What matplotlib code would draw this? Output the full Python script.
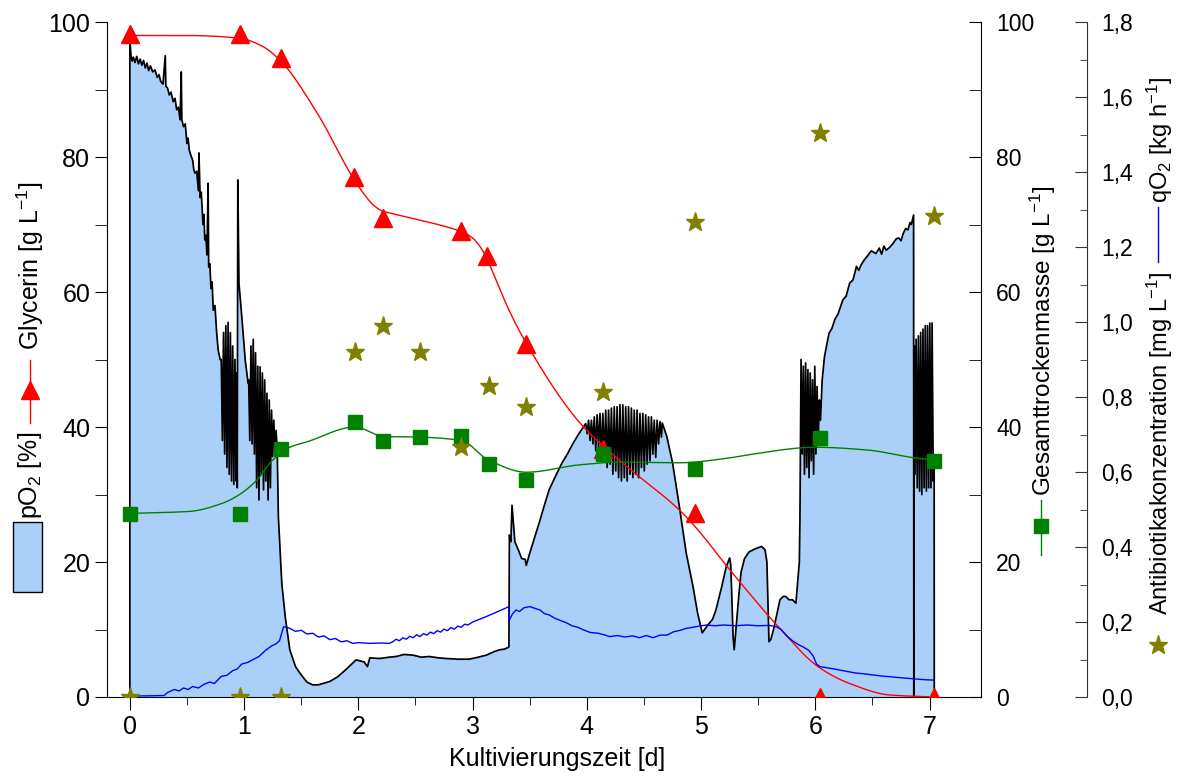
import numpy as np
import matplotlib
matplotlib.use("Agg")
import matplotlib.pyplot as plt
from matplotlib.lines import Line2D
from matplotlib.patches import Rectangle
from matplotlib.ticker import MultipleLocator, FuncFormatter

plt.rcParams['font.family'] = ['Liberation Sans', 'DejaVu Sans']
plt.rcParams['mathtext.fontset'] = 'custom'
plt.rcParams['mathtext.rm'] = 'Liberation Sans'
plt.rcParams['mathtext.it'] = 'Liberation Sans:italic'

# --- sample points (d) ---
glyc_t = [0, 0.96, 1.32, 1.96, 2.22, 2.90, 3.13, 3.47, 4.14, 4.95, 6.04, 7.04]
glyc_v = [98.2, 98.2, 94.7, 77.0, 71.0, 69.0, 65.3, 52.3, 36.8, 27.3, 0, 0]
# fitted glycerin curve
glyc_fit_t = [0, 0.5, 0.96, 1.15, 1.31, 1.64, 1.95, 2.05, 2.13, 2.21, 2.3, 2.45, 2.65,
              2.89, 3.0, 3.1, 3.2, 3.3, 3.45, 3.94, 4.29, 4.81, 4.96, 5.22, 5.42, 5.66,
              6.04, 6.3, 6.65, 7.04]
glyc_fit_v = [98, 98, 97.6, 96.5, 94.4, 86.5, 77, 74.5, 72.9, 72, 71.6, 71, 70.2,
              69, 68, 65.8, 62, 58, 53, 40.6, 35, 27.7, 25, 19.5, 15.4, 10.7,
              4.3, 2, 0.3, 0]

cdw_t = [0, 0.96, 1.32, 1.97, 2.22, 2.54, 2.90, 3.14, 3.47, 4.14, 4.95, 6.04, 7.04]
cdw_v = [27.1, 27.1, 36.8, 40.8, 38.0, 38.5, 38.7, 34.5, 32.2, 36.0, 33.8, 38.3, 35.0]
cdw_fit_t = [0, 0.525, 0.81, 0.96, 1.11, 1.25, 1.4, 1.55, 1.97, 2.22, 2.54, 2.9, 3.14,
             3.47, 3.94, 4.29, 4.81, 5.24, 5.42, 6.0, 6.45, 6.88, 7.04]
cdw_fit_v = [27.2, 27.5, 28.7, 30, 32.1, 35.1, 37, 37.8, 40, 38.6, 38.5, 38, 35.1,
             33.3, 34.4, 34.8, 34.7, 35.4, 35.9, 37, 36.6, 35.4, 35.1]

abx_t = [0, 0.96, 1.32, 1.97, 2.22, 2.54, 2.90, 3.14, 3.47, 4.14, 4.95, 6.04, 7.04]
abx_v = [0, 0, 0, 0.92, 0.99, 0.92, 0.667, 0.83, 0.773, 0.813, 1.267, 1.504, 1.283]

po2_t_start = [0, 0, 0.01, 0.02, 0.03, 0.045, 0.06, 0.075, 0.09, 0.105, 0.12, 0.135,
               0.15, 0.165, 0.18, 0.2, 0.22, 0.24, 0.255, 0.27, 0.29, 0.31, 0.315, 0.33,
               0.345, 0.36, 0.38, 0.395, 0.41, 0.425, 0.44, 0.45, 0.455, 0.47, 0.485,
               0.5, 0.51, 0.52, 0.535, 0.55, 0.56, 0.57, 0.585, 0.6, 0.605, 0.615, 0.625,
               0.64, 0.648, 0.656, 0.665, 0.675, 0.685, 0.69, 0.70, 0.71, 0.72, 0.73,
               0.745, 0.76, 0.773, 0.79]
po2_v_start = [0, 97.5, 95, 94.2, 94.8, 94, 94.9, 93.8, 94.5, 93.6, 94.3, 93.2,
               93.9, 92.8, 93.5, 92.6, 92.9, 91.8, 92.2, 91.2, 90.8, 95, 90.5, 90.2,
               89.2, 89.6, 88.2, 88.7, 87.0, 87.4, 85.5, 92.6, 85.5, 84.5, 84.9,
               82, 82.8, 81, 80.2, 79.5, 78.1, 77.6, 77.9, 75, 80.6, 74, 74.8,
               70, 71.5, 67.7, 68.4, 65.5, 76.1, 63.7, 64.2, 60.5, 61.5, 57.3,
               58, 53.9, 51.4, 50]
po2_t_osc1 = [0.80, 0.81, 0.82, 0.83, 0.84, 0.85, 0.86, 0.87, 0.88, 0.89, 0.90, 0.91,
              0.92, 0.93, 0.935, 0.94, 0.945, 0.955, 0.98, 1.01, 1.035,
              1.04, 1.05, 1.06, 1.07, 1.08, 1.09, 1.10, 1.11, 1.12, 1.13, 1.14, 1.15, 1.16,
              1.17, 1.18, 1.19, 1.20, 1.21, 1.22, 1.23, 1.24, 1.25, 1.26, 1.27, 1.28, 1.29]
po2_v_osc1 = [50, 38, 54, 36, 55, 34, 55.5, 33, 54, 32, 52, 31.5,
              50, 32, 48, 31, 76.6, 61.3, 56.3, 49.9, 46.5,
              47, 38, 52, 37.5, 53, 36, 51, 31, 49, 29.2, 48.9, 33, 48,
              30.7, 47, 32, 45, 29.2, 44, 31, 42.5, 35.6, 41, 36, 39.5, 36.6]
po2_t_low = [1.30, 1.33, 1.36, 1.40, 1.45, 1.49, 1.55, 1.6, 1.65, 1.75, 1.82, 1.9, 1.98,
             2.05, 2.08, 2.1, 2.19, 2.27, 2.33, 2.4, 2.48, 2.55, 2.62, 2.7, 2.77, 2.87,
             2.97, 3.05, 3.12, 3.2, 3.24, 3.28, 3.318]
po2_v_low = [26.7, 16.8, 11.9, 7, 4.5, 3.5, 2.2, 1.8, 1.8, 2.3, 3.0, 4.2, 5.5,
             5.2, 4.5, 5.8, 5.7, 5.9, 6.0, 6.3, 6.2, 5.9, 6.0, 5.8, 5.7, 5.6,
             5.6, 5.9, 6.2, 6.8, 7.0, 7.1, 7.4]
po2_t_rise = [3.322, 3.335, 3.345, 3.37, 3.40, 3.43, 3.46, 3.47, 3.5, 3.55, 3.59, 3.63,
              3.67, 3.72, 3.78, 3.83, 3.88, 3.93, 3.97]
po2_v_rise = [24, 23, 28.4, 23, 21.8, 20.5, 20.4, 19.5, 21.3, 24, 26.2, 28.5,
              30.7, 32.5, 34.6, 36, 37.6, 39, 40]
po2_t_osc2 = [3.990, 4.003, 4.015, 4.028, 4.040, 4.053, 4.065, 4.078, 4.090, 4.103,
              4.115, 4.128, 4.140, 4.153, 4.165, 4.178, 4.190, 4.203, 4.215, 4.228,
              4.240, 4.253, 4.265, 4.278, 4.290, 4.303, 4.315, 4.328, 4.340, 4.353,
              4.365, 4.378, 4.390, 4.403, 4.415, 4.428, 4.440, 4.453, 4.465, 4.478,
              4.490, 4.503, 4.515, 4.528, 4.540, 4.553, 4.565, 4.578, 4.590, 4.603,
              4.615, 4.628, 4.640, 4.653]
po2_v_osc2 = [40.5, 39.0, 41.0, 38.0, 41.0, 37.5, 41.5, 36.5, 41.8, 37.0,
              42.0, 35.5, 42.0, 35.0, 42.5, 34.0, 42.5, 34.5, 42.8, 33.0,
              43.0, 33.5, 43.0, 32.5, 43.3, 32.0, 43.3, 32.5, 43.0, 32.0,
              43.0, 33.0, 42.8, 32.5, 42.5, 33.0, 42.5, 32.5, 42.0, 34.0,
              42.0, 33.5, 41.8, 34.5, 41.5, 35.0, 41.5, 36.0, 41.0, 35.5,
              41.0, 37.5, 40.8, 38.5]
po2_t_dip = [4.66, 4.70, 4.75, 4.81, 4.87, 4.93, 4.97, 5.01, 5.06, 5.10, 5.13, 5.18,
             5.22, 5.25, 5.26, 5.28, 5.29, 5.31, 5.33, 5.35, 5.38, 5.42, 5.48, 5.53,
             5.56, 5.576, 5.594, 5.61, 5.64, 5.69, 5.72, 5.74, 5.77, 5.80, 5.83, 5.845,
             5.86, 5.865]
po2_v_dip = [40.6, 38.6, 34.7, 28.2, 21.3, 16.3, 12.4, 9.5, 10.7, 11.5, 12.9, 16.3,
             19.3, 20.6, 19.5, 9, 7, 11, 15, 18.5, 20.5, 21.5, 22, 22.3,
             21.8, 20, 8.2, 8.5, 10.4, 14.4, 14.9, 14.9, 14.4, 14.4, 13.9, 17,
             20, 26]
po2_t_osc3 = [5.870, 5.875, 5.885, 5.895, 5.905, 5.915, 5.925, 5.935, 5.945, 5.955,
              5.965, 5.975, 5.985, 5.995, 6.005, 6.015, 6.025, 6.035, 6.045]
po2_v_osc3 = [39, 50, 36, 49, 33, 49.5, 34, 48.5, 32.5, 48, 35, 47, 33, 49, 36, 46,
              38, 44, 41]
po2_t_end = [6.06, 6.08, 6.10, 6.12, 6.145, 6.17, 6.2, 6.24, 6.27, 6.30, 6.33, 6.36,
             6.38, 6.40, 6.43, 6.45, 6.49, 6.53, 6.56, 6.58, 6.60, 6.62, 6.65, 6.68,
             6.71, 6.73, 6.75, 6.77, 6.79, 6.81, 6.83, 6.84, 6.86]
po2_v_end = [47, 50.4, 52.2, 53.9, 54.6, 55.9, 56.8, 58.8, 59.4, 61.3, 61.8, 63.8,
             63.2, 64, 64.8, 65.2, 66.1, 65.7, 66.5, 65.6, 66.8, 66.2, 66.6, 67.2,
             67.9, 68, 67.6, 68.7, 69.4, 69.2, 70.3, 70, 71.4]
po2_t_osc4 = [6.862, 6.866, 6.872, 6.882, 6.892, 6.902, 6.912, 6.922, 6.932, 6.942,
              6.952, 6.962, 6.972, 6.982, 6.992, 7.002, 7.012, 7.022, 7.032, 7.040, 7.041]
po2_v_osc4 = [0, 52, 33, 53, 31, 53.5, 30.5, 54, 30, 54.5, 31, 55, 30.5, 55, 31,
              55.4, 31, 55.4, 32, 35, 0]

# qO2 trace (kg/h)
qo2_t = [0.0, 0.15, 0.30, 0.33, 0.36, 0.39, 0.43, 0.47, 0.51, 0.55, 0.60, 0.65, 0.70,
         0.74, 0.80, 0.85, 0.90, 0.94, 0.98, 1.03, 1.08, 1.13, 1.19, 1.24, 1.28, 1.31,
         1.345, 1.37, 1.40, 1.45, 1.50, 1.55, 1.60, 1.65, 1.70, 1.75, 1.80, 1.85, 1.90,
         1.95, 2.00, 2.10, 2.20, 2.27, 2.30, 2.33, 2.36, 2.39, 2.42, 2.45, 2.48, 2.51,
         2.54, 2.57, 2.60, 2.63, 2.66, 2.69, 2.72, 2.75, 2.78, 2.81, 2.84, 2.87, 2.90,
         2.93, 2.96, 3.00, 3.10, 3.20, 3.318, 3.322, 3.35, 3.38, 3.41, 3.45, 3.50, 3.55,
         3.59, 3.63, 3.67, 3.72, 3.76, 3.82, 3.87, 3.92, 3.97, 4.03, 4.10, 4.15, 4.20,
         4.27, 4.33, 4.40, 4.46, 4.52, 4.58, 4.64, 4.70, 4.76, 4.82, 4.87, 4.93, 5.00,
         5.05, 5.12, 5.20, 5.30, 5.40, 5.50, 5.60, 5.66, 5.70, 5.75, 5.80, 5.85, 5.89,
         5.94, 5.98, 6.01, 6.04, 6.10, 6.16, 6.21, 6.28, 6.35, 6.42, 6.50, 6.58, 6.65,
         6.72, 6.80, 6.88, 6.96, 7.04]
qo2_v = [0.003, 0.003, 0.004, 0.012, 0.016, 0.02, 0.016, 0.024, 0.02, 0.028, 0.024,
         0.034, 0.04, 0.036, 0.055, 0.058, 0.07, 0.075, 0.088, 0.092, 0.1, 0.108, 0.125,
         0.136, 0.142, 0.15, 0.187, 0.186, 0.183, 0.175, 0.178, 0.168, 0.17, 0.16,
         0.163, 0.153, 0.156, 0.147, 0.15, 0.143, 0.145, 0.143, 0.144, 0.143, 0.147,
         0.154, 0.15, 0.158, 0.154, 0.162, 0.158, 0.166, 0.161, 0.169, 0.165, 0.173,
         0.169, 0.177, 0.173, 0.181, 0.177, 0.185, 0.181, 0.189, 0.186, 0.194, 0.192,
         0.2, 0.212, 0.225, 0.241, 0.205, 0.222, 0.232, 0.228, 0.238, 0.241, 0.236,
         0.232, 0.222, 0.219, 0.21, 0.205, 0.198, 0.19, 0.186, 0.179, 0.172, 0.17,
         0.166, 0.161, 0.164, 0.16, 0.163, 0.158, 0.164, 0.158, 0.165, 0.165, 0.174,
         0.178, 0.183, 0.186, 0.19, 0.192, 0.19, 0.192, 0.19, 0.192, 0.19, 0.191, 0.187,
         0.18, 0.163, 0.15, 0.14, 0.134, 0.125, 0.11, 0.088, 0.081, 0.078, 0.075, 0.072,
         0.068, 0.064, 0.062, 0.059, 0.056, 0.054, 0.052, 0.05, 0.048, 0.046, 0.045]


def pchip(x, y, xs):
    x = np.asarray(x, float)
    y = np.asarray(y, float)
    h = np.diff(x)
    d = np.diff(y) / h
    m = np.zeros_like(y)
    m[0], m[-1] = d[0], d[-1]
    for k in range(1, len(x) - 1):
        if d[k - 1] * d[k] > 0:
            w1 = 2 * h[k] + h[k - 1]
            w2 = h[k] + 2 * h[k - 1]
            m[k] = (w1 + w2) / (w1 / d[k - 1] + w2 / d[k])
    i = np.clip(np.searchsorted(x, xs) - 1, 0, len(h) - 1)
    s = (xs - x[i]) / h[i]
    return ((2 * s**3 - 3 * s**2 + 1) * y[i] + (s**3 - 2 * s**2 + s) * h[i] * m[i]
            + (-2 * s**3 + 3 * s**2) * y[i + 1] + (s**3 - s**2) * h[i] * m[i + 1])


W, H = 1179, 781
fig = plt.figure(figsize=(W / 100, H / 100), dpi=100)
ax = fig.add_axes([107 / W, 1 - 697 / H, 874 / W, 675 / H])
ax2 = ax.twinx()
ax3 = ax.twinx()

po2_t = np.concatenate([po2_t_start, po2_t_osc1, po2_t_low, po2_t_rise, po2_t_osc2,
                        po2_t_dip, po2_t_osc3, po2_t_end, po2_t_osc4])
po2_v = np.concatenate([po2_v_start, po2_v_osc1, po2_v_low, po2_v_rise, po2_v_osc2,
                        po2_v_dip, po2_v_osc3, po2_v_end, po2_v_osc4])

blue_fill = '#aad0fa'
ax.fill_between(po2_t, po2_v, 0, color=blue_fill, lw=0, zorder=1)
ax.plot(po2_t, po2_v, color='black', lw=1.25, zorder=2)

xs = np.linspace(0, 7.04, 700)
ax.plot(xs, pchip(glyc_fit_t, glyc_fit_v, xs), color='red', lw=1, zorder=3)
ax.plot(glyc_t, glyc_v, ls='none', marker='^', ms=13, color='red', mec='red', zorder=4)

ax2.plot(xs, pchip(cdw_fit_t, cdw_fit_v, xs), color='green', lw=1, zorder=3)
ax2.plot(cdw_t, cdw_v, ls='none', marker='s', ms=9.5, color='green', zorder=4)

ax3.plot(qo2_t, qo2_v, color='blue', lw=1, zorder=2)
ax3.plot(abx_t, abx_v, ls='none', marker='*', ms=14, color='#808000', zorder=5)

# axes
ax.set_xlim(-0.2, 7.45)
ax.set_ylim(0, 100)
ax2.set_ylim(0, 100)
ax3.set_ylim(0, 1.8)

ax.spines['top'].set_visible(False)
ax.spines['right'].set_visible(False)
for s in ['top', 'left', 'bottom']:
    ax2.spines[s].set_visible(False)
    ax3.spines[s].set_visible(False)
ax3.spines['right'].set_position(('axes', (1087 - 107) / 874))
ax3.spines['right'].set_color('#333333')

ax.xaxis.set_major_locator(MultipleLocator(1))
ax.xaxis.set_minor_locator(MultipleLocator(0.5))
ax.yaxis.set_major_locator(MultipleLocator(20))
ax.yaxis.set_minor_locator(MultipleLocator(10))
ax2.yaxis.set_major_locator(MultipleLocator(20))
ax2.yaxis.set_minor_locator(MultipleLocator(10))
ax3.yaxis.set_major_locator(MultipleLocator(0.2))
ax3.yaxis.set_minor_locator(MultipleLocator(0.1))
ax3.yaxis.set_major_formatter(FuncFormatter(lambda v, p: f"{v:.1f}".replace('.', ',')))

ax.tick_params(axis='x', which='major', direction='out', length=9, labelsize=18, pad=4)
ax.tick_params(axis='x', which='minor', direction='out', length=5.5)
ax.tick_params(axis='y', which='both', direction='out', length=9, labelsize=18, pad=3)
ax2.tick_params(axis='y', which='both', direction='in', length=9, labelsize=16.5, pad=11)
ax3.tick_params(axis='y', which='major', direction='in', length=9, labelsize=16.5,
                pad=10.5, color='#333333')
ax3.tick_params(axis='y', which='minor', direction='in', length=5, color='#333333')

ax.set_xlabel('Kultivierungszeit [d]', fontsize=18)
ax.xaxis.set_label_coords(0.515, -0.074)


# composed axis labels with legend symbols
def fx(px):
    return px / W


def fy(py):
    return 1 - py / H


fig.patches.append(Rectangle((fx(13), fy(592)), 29 / W, 70 / H, transform=fig.transFigure,
                             fc=blue_fill, ec='black', lw=1))
fig.text(fx(30), fy(475), r'pO$_{\mathregular{2}}$ [%]', rotation=90, ha='center',
         va='center', fontsize=18)
fig.lines.append(Line2D([fx(30), fx(30)], [fy(360), fy(423)], color='red', lw=1,
                        transform=fig.transFigure))
fig.lines.append(Line2D([fx(30)], [fy(390)], marker='^', ms=13, color='red',
                        transform=fig.transFigure))
fig.text(fx(30), fy(266), r'Glycerin [g L$^{\mathregular{-1}}$]', rotation=90,
         ha='center', va='center', fontsize=18)

fig.text(fx(1043), fy(341), r'Gesamttrockenmasse [g L$^{\mathregular{-1}}$]', rotation=90,
         ha='center', va='center', fontsize=17.5)
fig.lines.append(Line2D([fx(1041), fx(1041)], [fy(500), fy(555)], color='green', lw=1,
                        transform=fig.transFigure))
fig.lines.append(Line2D([fx(1041)], [fy(526)], marker='s', ms=9.5, color='green',
                        transform=fig.transFigure))

fig.text(fx(1160), fy(140), r'qO$_{\mathregular{2}}$ [kg h$^{\mathregular{-1}}$]',
         rotation=90, ha='center', va='center', fontsize=17)
fig.lines.append(Line2D([fx(1158), fx(1158)], [fy(207), fy(262)], color='blue', lw=1,
                        transform=fig.transFigure))
fig.text(fx(1160), fy(443), r'Antibiotikakonzentration [mg L$^{\mathregular{-1}}$]',
         rotation=90, ha='center', va='center', fontsize=17)
fig.lines.append(Line2D([fx(1158)], [fy(645)], marker='*', ms=14, color='#808000',
                        transform=fig.transFigure))

fig.savefig('out.png', dpi=100)
